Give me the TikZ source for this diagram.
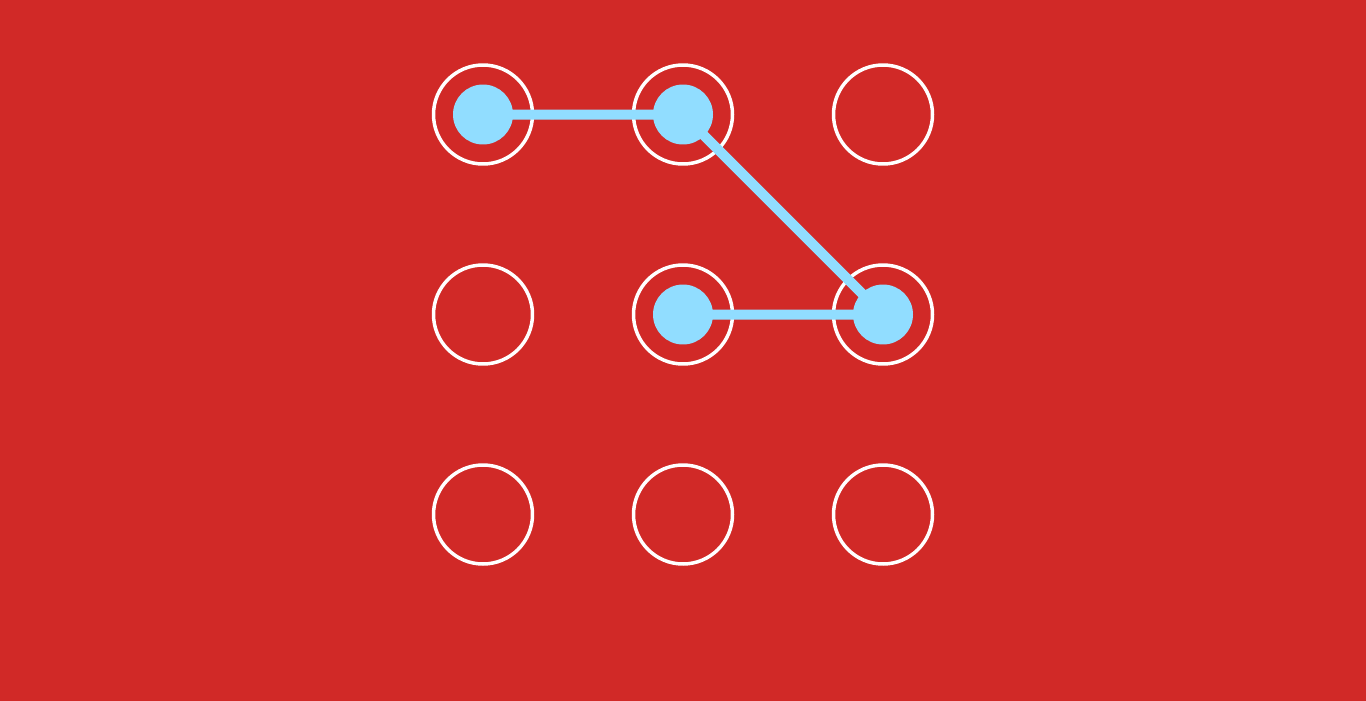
\documentclass[tikz,border=0pt]{standalone}
\definecolor{bgred}{RGB}{209,41,39}
\definecolor{dotblue}{RGB}{145,221,255}
\tikzset{
  ring/.style={circle, draw=white, line width=0.07cm, minimum size=1.98cm, inner sep=0pt},
  dot/.style={circle, fill=dotblue, minimum size=1.2cm, inner sep=0pt},
  link/.style={draw=dotblue, line width=0.2cm}
}
\begin{document}
\begin{tikzpicture}[x=0.02cm,y=-0.02cm]
\useasboundingbox (0,0) rectangle (1366,700);
\fill[bgred] (-10,-10) rectangle (1376,710);
% grid rings
\node[ring] (g11) at (483,114.5) {};
\node[ring] (g12) at (683,114.5) {};
\node[ring] (g13) at (883,114.5) {};
\node[ring] (g21) at (483,314.5) {};
\node[ring] (g22) at (683,314.5) {};
\node[ring] (g23) at (883,314.5) {};
\node[ring] (g31) at (483,514.5) {};
\node[ring] (g32) at (683,514.5) {};
\node[ring] (g33) at (883,514.5) {};
% selected dots
\node[dot] (d1) at (g11.center) {};
\node[dot] (d2) at (g12.center) {};
\node[dot] (d3) at (g23.center) {};
\node[dot] (d4) at (g22.center) {};
% path
\draw[link] (d1.center) -- (d2.center) -- (d3.center) -- (d4.center);
\end{tikzpicture}
\end{document}
